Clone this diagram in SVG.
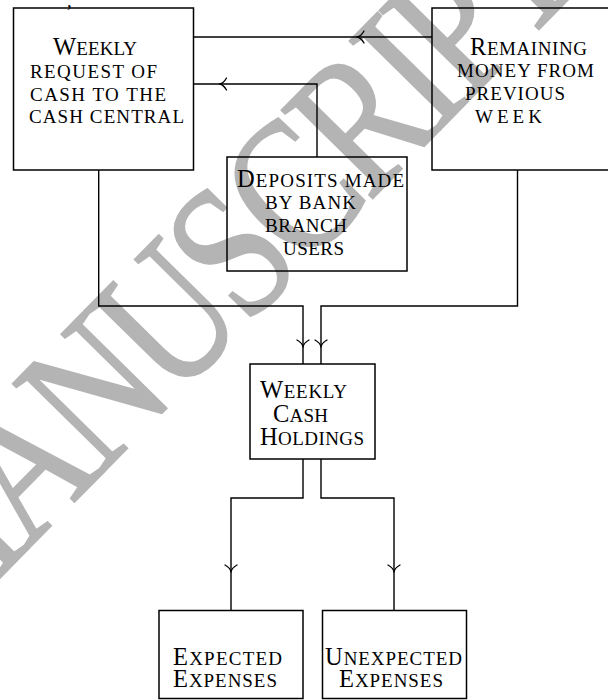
<svg xmlns="http://www.w3.org/2000/svg" xmlns:xlink="http://www.w3.org/1999/xlink" width="608" height="700" viewBox="0 0 608 700">
<style>
.t { font-family: "Liberation Serif", "Times New Roman", serif; font-size: 19px; fill: #000; }
.c { font-size: 24.5px; }
.box { fill: none; stroke: #000; stroke-width: 1.5; }
.ln { fill: none; stroke: #000; stroke-width: 1.4; }
.ah { fill: none; stroke: #000; stroke-width: 1.3; stroke-linecap: round; }
.wm { font-family: "Liberation Serif", "Times New Roman", serif; font-size: 155px; fill: #b4b4b4; stroke: #b4b4b4; stroke-width: 1.5; letter-spacing: -7.5px; }
</style>
<defs>
<path id="ah" class="ah" d="M-6,-7 Q-0.6,-4 0,0 M6,-7 Q0.6,-4 0,0"/>
</defs>
<rect width="608" height="700" fill="#fff"/>
<text class="wm" transform="translate(-64.6,643.4) rotate(-45.5) scale(1,1.25)">MANUSCRIPT</text>
<text class="t" x="67" y="7" font-size="18">,</text>

<g id="connectors">
<path class="ln" d="M432,37 H193.5"/>
<path class="ln" d="M317,157 V84 H193.5"/>
<path class="ln" d="M98.7,170 V306 H303 V364"/>
<path class="ln" d="M517.5,170 V306 H321 V364"/>
<path class="ln" d="M303,459 V498 H231 V610.5"/>
<path class="ln" d="M321,459 V498 H394 V610.5"/>
<use xlink:href="#ah" href="#ah" transform="translate(357,37) rotate(90)"/>
<use xlink:href="#ah" href="#ah" transform="translate(219.5,84) rotate(90)"/>
<use xlink:href="#ah" href="#ah" transform="translate(303,347)"/>
<use xlink:href="#ah" href="#ah" transform="translate(321,347)"/>
<use xlink:href="#ah" href="#ah" transform="translate(231,572)"/>
<use xlink:href="#ah" href="#ah" transform="translate(394,572)"/>
</g>

<g id="weekly-request">
<rect class="box" x="13.5" y="8" width="180" height="162"/>
<text class="t" x="53" y="55" textLength="84" lengthAdjust="spacing"><tspan class="c">W</tspan>EEKLY</text>
<text class="t" x="30" y="78" textLength="127" lengthAdjust="spacing">REQUEST OF</text>
<text class="t" x="30" y="101" textLength="136" lengthAdjust="spacing">CASH TO THE</text>
<text class="t" x="29" y="123" textLength="155" lengthAdjust="spacing">CASH CENTRAL</text>
</g>

<g id="remaining-money">
<rect class="box" x="432" y="8" width="180" height="162"/>
<text class="t" x="470" y="55" textLength="117" lengthAdjust="spacing"><tspan class="c">R</tspan>EMAINING</text>
<text class="t" x="457" y="77" textLength="137" lengthAdjust="spacing">MONEY FROM</text>
<text class="t" x="465" y="100" textLength="100" lengthAdjust="spacing">PREVIOUS</text>
<text class="t" x="475" y="123" textLength="67" lengthAdjust="spacing">WEEK</text>
</g>

<g id="deposits">
<rect class="box" x="227" y="157" width="180" height="114"/>
<text class="t" x="237" y="187" textLength="167" lengthAdjust="spacing"><tspan class="c">D</tspan>EPOSITS MADE</text>
<text class="t" x="265" y="209" textLength="91" lengthAdjust="spacing">BY BANK</text>
<text class="t" x="265" y="232" textLength="82" lengthAdjust="spacing">BRANCH</text>
<text class="t" x="283" y="255" textLength="61" lengthAdjust="spacing">USERS</text>
</g>

<g id="weekly-cash-holdings">
<rect class="box" x="250" y="364" width="125" height="95"/>
<text class="t" x="260" y="398" textLength="87" lengthAdjust="spacing"><tspan class="c">W</tspan>EEKLY</text>
<text class="t" x="273" y="422" textLength="55" lengthAdjust="spacing"><tspan class="c">C</tspan>ASH</text>
<text class="t" x="260" y="445" textLength="104" lengthAdjust="spacing"><tspan class="c">H</tspan>OLDINGS</text>
</g>

<g id="expected-expenses">
<rect class="box" x="159" y="610.5" width="144" height="88"/>
<text class="t" x="173" y="665" textLength="109" lengthAdjust="spacing"><tspan class="c">E</tspan>XPECTED</text>
<text class="t" x="173" y="687" textLength="104" lengthAdjust="spacing"><tspan class="c">E</tspan>XPENSES</text>
</g>

<g id="unexpected-expenses">
<rect class="box" x="322.5" y="610.5" width="144" height="88"/>
<text class="t" x="325" y="665" textLength="137" lengthAdjust="spacing"><tspan class="c">U</tspan>NEXPECTED</text>
<text class="t" x="339" y="687" textLength="104" lengthAdjust="spacing"><tspan class="c">E</tspan>XPENSES</text>
</g>
</svg>
